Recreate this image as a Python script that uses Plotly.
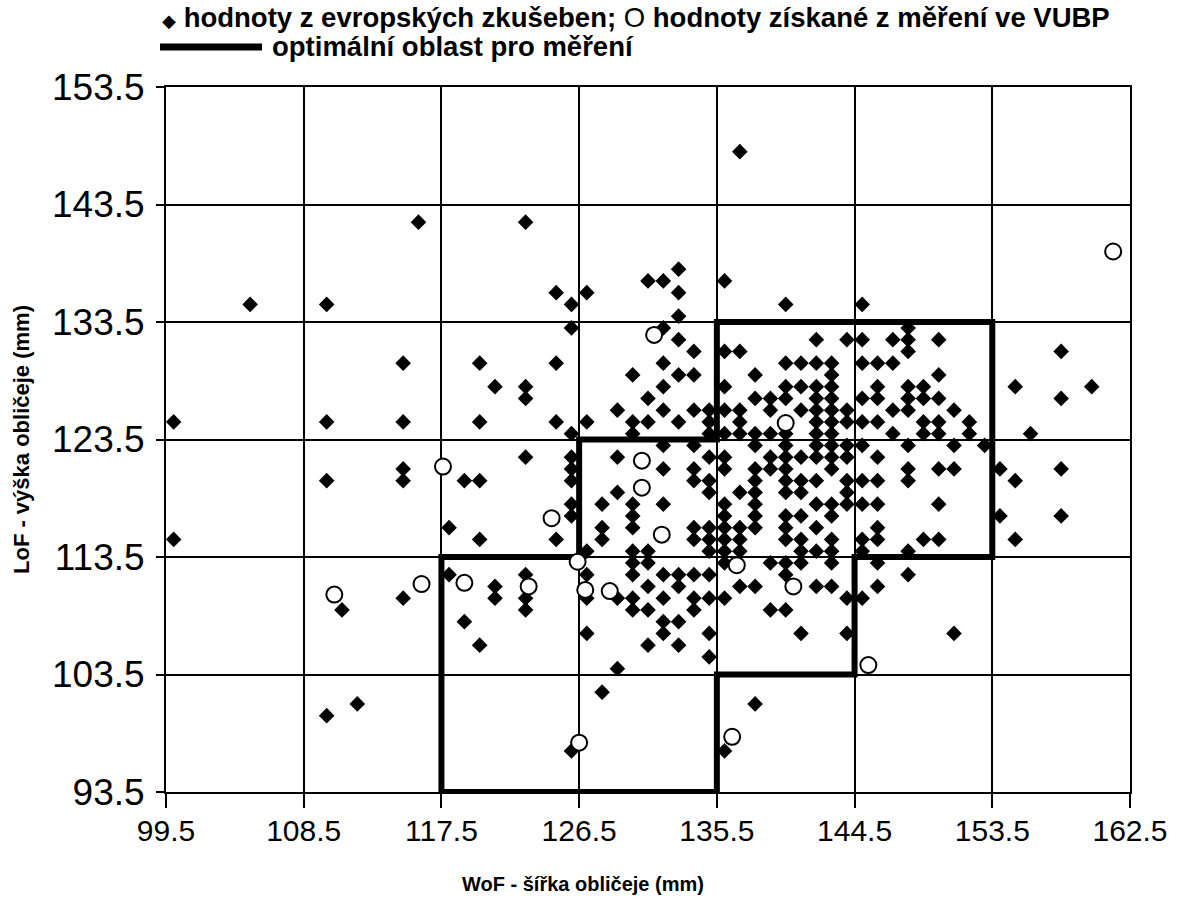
import plotly.graph_objects as go

# ---------------- data ----------------
x_ticks = [99.5, 108.5, 117.5, 126.5, 135.5, 144.5, 153.5, 162.5]
x_labels = ["99.5", "108.5", "117.5", "126.5", "135.5", "144.5", "153.5", "162.5"]
y_ticks = [93.5, 103.5, 113.5, 123.5, 133.5, 143.5, 153.5]
y_labels = ["93.5", "103.5", "113.5", "123.5", "133.5", "143.5", "153.5"]

# European test-house values (diamonds), row by row from top
eur_x = [
    137,
    116, 123,
    133,
    131, 132, 136,
    125, 127, 133,
    105, 110, 126, 140, 145,
    133,
    126, 132, 148,
    133, 142, 144, 145, 147, 148, 150,
    134, 136, 137, 148, 158,
    115, 120, 125, 132, 140, 141, 142, 143, 145, 146, 147,
    130, 133, 134, 138, 143, 150,
    121, 123, 132, 136, 140, 141, 142, 143, 146, 148, 149, 155, 160,
    123, 131, 138, 139, 140, 142, 143, 145, 146, 148, 149, 150, 158,
    129, 132, 134, 135, 136, 137, 139, 141, 142, 143, 144, 147, 148, 151,
    100, 110, 115, 120, 125, 127, 130, 131, 133, 135, 137, 142, 143, 144, 145, 146, 149, 150, 152,
    126, 130, 135, 136, 137, 138, 139, 140, 142, 143, 147, 149, 150, 152, 156,
    132, 134, 138, 140, 142, 143, 144, 145, 148, 151, 153,
    123, 126, 129, 135, 136, 139, 140, 141, 142, 143, 144, 146,
    115, 126, 132, 134, 136, 138, 139, 140, 143, 148, 150, 151, 154, 158,
    110, 115, 119, 120, 126, 134, 135, 138, 140, 141, 142, 144, 145, 146, 148, 155,
    129, 135, 137, 138, 140, 141, 144,
    126, 128, 130, 132, 136, 138, 142, 143, 144, 145, 146, 150,
    126, 130, 136, 138, 140, 141, 143, 154, 158,
    118, 128, 130, 134, 135, 136, 137, 138, 140, 142, 146,
    100, 120, 125, 128, 134, 135, 136, 137, 140, 141, 143, 145, 146, 149, 150, 155,
    127, 130, 131, 135, 136, 137, 141, 142, 143, 145, 148,
    130, 131, 136, 139, 140, 141, 143, 146,
    118, 123, 127, 130, 132, 133, 134, 135, 140, 148,
    121, 131, 133, 137, 138, 142, 143, 146,
    115, 121, 123, 127, 129, 130, 132, 134, 135, 136, 144, 145,
    111, 123, 130, 131, 134, 139, 140,
    119, 132, 133,
    127, 132, 135, 141, 144, 151,
    120, 131, 133,
    135,
    129,
    128,
    112, 138,
    110,
    126, 136,
]
eur_y = [
    148,
    142, 142,
    138,
    137, 137, 137,
    136, 136, 136,
    135, 135, 135, 135, 135,
    134,
    133, 133, 133,
    132, 132, 132, 132, 132, 132, 132,
    131, 131, 131, 131, 131,
    130, 130, 130, 130, 130, 130, 130, 130, 130, 130, 130,
    129, 129, 129, 129, 129, 129,
    128, 128, 128, 128, 128, 128, 128, 128, 128, 128, 128, 128, 128,
    127, 127, 127, 127, 127, 127, 127, 127, 127, 127, 127, 127, 127,
    126, 126, 126, 126, 126, 126, 126, 126, 126, 126, 126, 126, 126, 126,
    125, 125, 125, 125, 125, 125, 125, 125, 125, 125, 125, 125, 125, 125, 125, 125, 125, 125, 125,
    124, 124, 124, 124, 124, 124, 124, 124, 124, 124, 124, 124, 124, 124, 124,
    123, 123, 123, 123, 123, 123, 123, 123, 123, 123, 123,
    122, 122, 122, 122, 122, 122, 122, 122, 122, 122, 122, 122,
    121, 121, 121, 121, 121, 121, 121, 121, 121, 121, 121, 121, 121, 121,
    120, 120, 120, 120, 120, 120, 120, 120, 120, 120, 120, 120, 120, 120, 120, 120,
    119, 119, 119, 119, 119, 119, 119,
    118, 118, 118, 118, 118, 118, 118, 118, 118, 118, 118, 118,
    117, 117, 117, 117, 117, 117, 117, 117, 117,
    116, 116, 116, 116, 116, 116, 116, 116, 116, 116, 116,
    115, 115, 115, 115, 115, 115, 115, 115, 115, 115, 115, 115, 115, 115, 115, 115,
    114, 114, 114, 114, 114, 114, 114, 114, 114, 114, 114,
    113, 113, 113, 113, 113, 113, 113, 113,
    112, 112, 112, 112, 112, 112, 112, 112, 112, 112,
    111, 111, 111, 111, 111, 111, 111, 111,
    110, 110, 110, 110, 110, 110, 110, 110, 110, 110, 110, 110,
    109, 109, 109, 109, 109, 109, 109,
    108, 108, 108,
    107, 107, 107, 107, 107, 107,
    106, 106, 106,
    105,
    104,
    102,
    101, 101,
    100,
    97, 97,
]
assert len(eur_x) == len(eur_y), (len(eur_x), len(eur_y))

# VUBP measured values (open circles)
vubp_x = [161.4, 131.4, 140.0, 117.6, 130.6, 130.6, 124.7, 131.9, 126.4, 136.8,
          110.5, 116.2, 119.0, 123.2, 126.9, 128.5, 140.5, 145.4, 126.5, 136.5]
vubp_y = [139.5, 132.4, 124.9, 121.2, 121.7, 119.4, 116.8, 115.4, 113.1, 112.8,
          110.3, 111.2, 111.3, 111.0, 110.7, 110.6, 111.0, 104.3, 97.7, 98.2]

# optimal measuring region outline
region_x = [117.5, 117.5, 126.5, 126.5, 135.5, 135.5, 153.5, 153.5, 144.5, 144.5, 135.5, 135.5, 117.5]
region_y = [93.5, 113.5, 113.5, 123.5, 123.5, 133.5, 133.5, 113.5, 113.5, 103.5, 103.5, 93.5, 93.5]

legend_line1 = ('<span style="font-size:18px">◆</span> <b>hodnoty z evropských zkušeben;</b> '
                'O <b>hodnoty získané z měření ve VUBP</b>')
legend_line2 = "<b>optimální oblast pro měření</b>"
x_title = "<b>WoF - šířka obličeje (mm)</b>"
y_title = "<b>LoF - výška obličeje (mm)</b>"

# ---------------- figure ----------------
FONT = "Liberation Sans, Arial, Helvetica, sans-serif"

fig = go.Figure()
fig.add_trace(go.Scatter(x=region_x, y=region_y, mode="lines",
                         line=dict(color="black", width=6),
                         showlegend=False, hoverinfo="skip"))
fig.add_trace(go.Scatter(x=eur_x, y=eur_y, mode="markers",
                         marker=dict(symbol="diamond", size=12, color="black",
                                     line=dict(width=0)),
                         showlegend=False))
fig.add_trace(go.Scatter(x=vubp_x, y=vubp_y, mode="markers",
                         marker=dict(symbol="circle", size=16, color="white",
                                     line=dict(color="black", width=2)),
                         showlegend=False))

fig.update_layout(
    width=1183, height=911,
    margin=dict(l=166, r=53, t=87, b=119),
    paper_bgcolor="white", plot_bgcolor="white",
    font=dict(family=FONT, color="black"),
    showlegend=False,
)
fig.update_xaxes(range=[99.5, 162.5], tickvals=x_ticks, ticktext=x_labels,
                 showgrid=True, gridcolor="black", gridwidth=2,
                 showline=True, linecolor="black", linewidth=2, mirror=True,
                 ticks="outside", ticklen=14, tickwidth=1.5, tickcolor="black",
                 tickfont=dict(size=30, family=FONT), ticklabelstandoff=-3,
                 zeroline=False)
fig.update_yaxes(range=[93.5, 153.5], tickvals=y_ticks, ticktext=y_labels,
                 showgrid=True, gridcolor="black", gridwidth=2,
                 showline=True, linecolor="black", linewidth=2, mirror=True,
                 ticks="outside", ticklen=8, tickwidth=1.5, tickcolor="black",
                 tickfont=dict(size=37, family=FONT), ticklabelstandoff=4,
                 zeroline=False)

# plot area spans page px x 166..1130, y 87..792
def px(xp):
    return (xp - 166) / 964.0

def py(yp):
    return (792 - yp) / 705.0

fig.add_annotation(text=legend_line1, xref="paper", yref="paper",
                   x=px(160), y=py(18), xanchor="left", yanchor="middle",
                   showarrow=False, font=dict(size=27.5, family=FONT))
fig.add_shape(type="line", xref="paper", yref="paper",
              x0=px(160), x1=px(262), y0=py(47), y1=py(47),
              line=dict(color="black", width=7))
fig.add_annotation(text=legend_line2, xref="paper", yref="paper",
                   x=px(270), y=py(47), xanchor="left", yanchor="middle",
                   showarrow=False, font=dict(size=27.5, family=FONT))
fig.add_annotation(text=x_title, xref="paper", yref="paper",
                   x=px(583), y=py(884), xanchor="center", yanchor="middle",
                   showarrow=False, font=dict(size=20, family=FONT))
fig.add_annotation(text=y_title, xref="paper", yref="paper",
                   x=px(22), y=py(440), xanchor="center", yanchor="middle",
                   textangle=-90, showarrow=False, font=dict(size=22, family=FONT))

fig.write_html("out.html",
               config={"displayModeBar": False},
               post_script="document.body.style.margin='0';"
                           "document.body.style.overflow='hidden';")
